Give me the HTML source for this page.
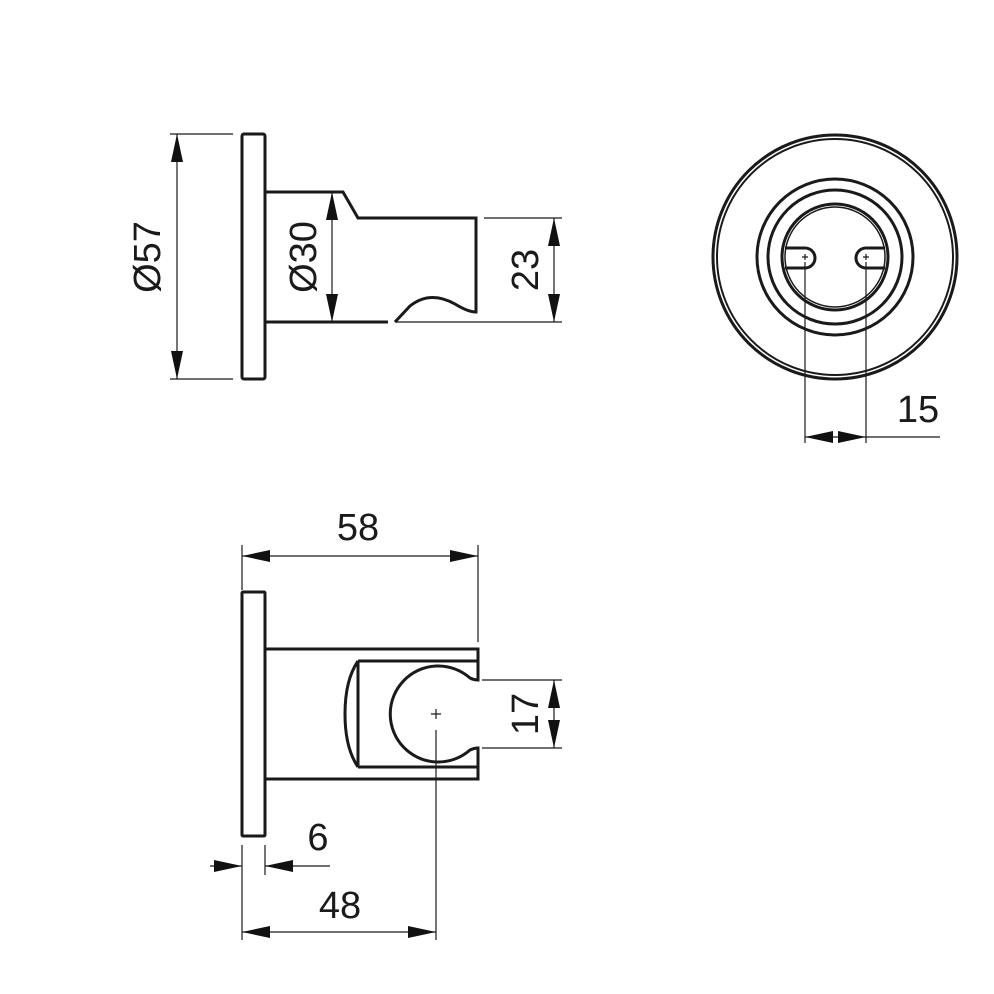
<!DOCTYPE html>
<html><head><style>body{margin:0;background:#fff}svg{display:block}</style></head><body>
<svg width="994" height="994" viewBox="0 0 994 994" xmlns="http://www.w3.org/2000/svg" font-family="Liberation Sans, Arial, sans-serif" font-size="38" fill="none" stroke="#1a1a1a">
<defs>
<marker id="a" viewBox="0 0 28 12" refX="28" refY="6" markerWidth="28" markerHeight="12" markerUnits="userSpaceOnUse" orient="auto"><path d="M0,0L28,6L0,12Z" fill="#111" stroke="none"/></marker>
</defs>
<g stroke-width="3">
<rect x="242" y="134" width="23" height="245" rx="2"/>
<path d="M266,192H343L358,218H476V312Q468,312 455,304Q430,290 410,306L395,322"/>
<path d="M266,322H388"/>
</g>
<g stroke-width="1.2">
<path d="M170,134H233M170,379H233"/>
<line x1="177" y1="256" x2="177" y2="134" marker-end="url(#a)"/>
<line x1="177" y1="256" x2="177" y2="379" marker-end="url(#a)"/>
<line x1="332" y1="257" x2="332" y2="192" marker-end="url(#a)"/>
<line x1="332" y1="257" x2="332" y2="322" marker-end="url(#a)"/>
<path d="M484,218H562M395,322H562"/>
<line x1="554" y1="270" x2="554" y2="218" marker-end="url(#a)"/>
<line x1="554" y1="270" x2="554" y2="322" marker-end="url(#a)"/>
</g>
<g fill="#1a1a1a" stroke="none">
<text transform="translate(160,257) rotate(-90)" text-anchor="middle">Ø57</text>
<text transform="translate(316,257) rotate(-90)" text-anchor="middle">Ø30</text>
<text transform="translate(538,270) rotate(-90)" text-anchor="middle">23</text>
</g>
<g stroke-width="3">
<circle cx="835" cy="257" r="122"/>
<circle cx="835" cy="257" r="118" stroke-width="2"/>
<circle cx="835" cy="257" r="78"/>
<circle cx="835" cy="257" r="67"/>
<circle cx="835" cy="257" r="53"/>
<circle cx="835" cy="257" r="50" stroke-width="1.5"/>
<path d="M785,248H805A10,10 0 0 1 805,268H785"/>
<path d="M885,248H866A10,10 0 0 0 866,268H885"/>
</g>
<g stroke-width="1.2">
<path d="M802,257H808M805,254V260M863,257H869M866,254V260"/>
<path d="M805,262V443M866,262V443M866,437H940"/>
<line x1="835" y1="437" x2="805" y2="437" marker-end="url(#a)"/>
<line x1="835" y1="437" x2="866" y2="437" marker-end="url(#a)"/>
</g>
<text x="918" y="422" fill="#1a1a1a" stroke="none" text-anchor="middle">15</text>
<g stroke-width="3">
<rect x="242" y="592" width="23" height="244" rx="1"/>
<path d="M266,649H478V680Q474,680 470,678A48,48 0 1 0 470,750Q474,748 478,748V779H266"/>
<path d="M358,661H478M358,767H478M358,661V767"/>
<path d="M358,661Q345,680 345,714Q345,748 358,767"/>
</g>
<g stroke-width="1.2">
<path d="M431,714H441M436,709V719"/>
<path d="M242,545V590M478,545V642"/>
<line x1="360" y1="556" x2="242" y2="556" marker-end="url(#a)"/>
<line x1="360" y1="556" x2="478" y2="556" marker-end="url(#a)"/>
<path d="M482,680H562M482,748H562"/>
<line x1="554" y1="714" x2="554" y2="680" marker-end="url(#a)"/>
<line x1="554" y1="714" x2="554" y2="748" marker-end="url(#a)"/>
<path d="M242,845V940M265,845V875M436,730V940"/>
<line x1="210" y1="866" x2="242" y2="866" marker-end="url(#a)"/>
<line x1="330" y1="866" x2="265" y2="866" marker-end="url(#a)"/>
<line x1="340" y1="932" x2="242" y2="932" marker-end="url(#a)"/>
<line x1="340" y1="932" x2="436" y2="932" marker-end="url(#a)"/>
</g>
<g fill="#1a1a1a" stroke="none">
<text x="358" y="540" text-anchor="middle">58</text>
<text transform="translate(538,714) rotate(-90)" text-anchor="middle">17</text>
<text x="318" y="850" text-anchor="middle">6</text>
<text x="340" y="918" text-anchor="middle">48</text>
</g>
</svg>
</body></html>
